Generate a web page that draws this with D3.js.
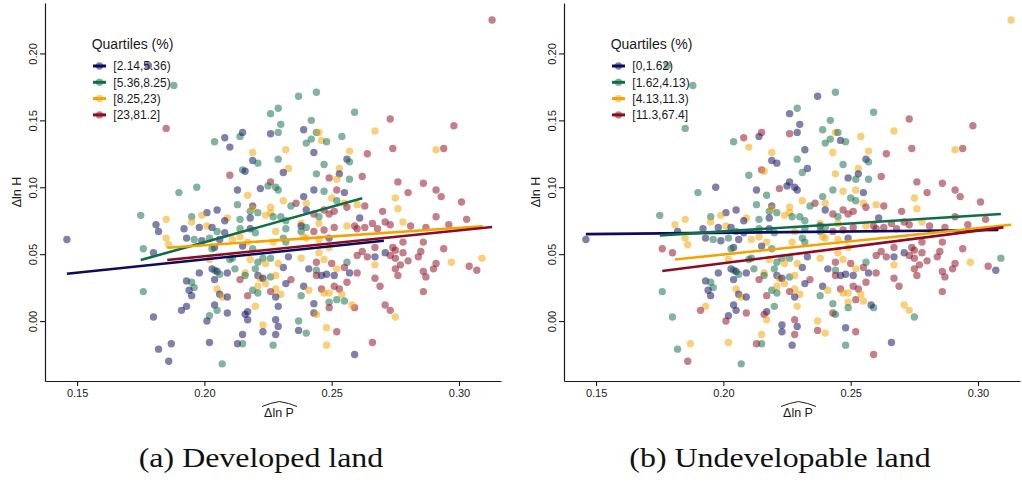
<!DOCTYPE html>
<html>
<head>
<meta charset="utf-8">
<script src="https://cdn.jsdelivr.net/npm/d3@7"></script>
<style>
  body { margin: 0; background: #fff; }
  svg { display: block; }
</style>
</head>
<body>
<svg id="chart" width="1022" height="482"></svg>
<script>
// Predicted price growth (x) and observed housing growth (y), one entry per city
const ptX = [
  .146,.178,.188,.185,.313,.190,.197,.204,.208,.210,
  .214,.215,.219,.219,.221,.215,.216,.210,.213,.222,
  .217,.213,.219,.218,.219,.221,.205,.201,.199,.209,
  .208,.214,.218,.195,.195,.185,.181,.175,.192,.198,
  .201,.203,.182,.185,.186,.193,.196,.199,.202,.205,
  .208,.206,.204,.203,.176,.180,.214,.218,.220,.211,
  .214,.217,.215,.219,.202,.210,.211,.218,.221,.220,
  .203,.204,.205,.206,.209,.198,.212,.216,.216,.214,
  .221,.222,.204,.193,.195,.196,.176,.194,.195,.205,
  .206,.207,.209,.217,.219,.221,.221,.204,.205,.209,
  .220,.193,.191,.202,.201,.180,.217,.216,.217,.223,
  .223,.215,.213,.215,.202,.187,.182,.186,.207,
  .237,.244,.229,.226,.259,.242,.230,.229,.226,.239,
  .244,.245,.267,.242,.240,.246,.248,.254,.232,.243,
  .257,.264,.229,.256,.257,.247,.233,.231,.244,.253,
  .253,.252,.249,.262,.257,.226,.225,.228,.229,.243,
  .247,.252,.255,.239,.250,.252,.231,.236,.240,.255,
  .260,.256,.263,.270,.226,.226,.234,.240,.247,.249,
  .251,.243,.245,.245,.238,.238,.261,.259,.256,.263,
  .266,.230,.227,.224,.232,.240,.251,
  .273,.298,.274,.291,.294,.276,.286,.280,.291,.293,
  .275,.301,.276,.291,.303,.278,.271,.273,.281,.296,.287,
  .278,.286,.294,.274,.275,.271,.273,.275,.278,.280,
  .285,.284,.277,.275,.276,.291,.290,.286,.287,.297,
  .304,.307,.309,.269,.286,.271,.273,.275,
  .267,.267,.264,.260,.267,.267,.266,.259,.258,.256,
  .256,.260,.252,.248,.248,.257,.262,
  .228,.232,.238,.243,.247,.260,.268,.231,.227,.232,
  .239,.240,.245,.249,.249,.245,.223,.226,.233,.238,
  .247,.250,.255,.252,.244,.241,.244,.246,.248,.251,
  .244,.231,.229,.224,.223,.226,.228,.234,.232,.224,
  .228,.230,.226,.228,.239,.241,.246,.247,.249,.251,
  .253,.254,.252,.255,.238,.229,.243,.249,.249,.228,
  .229,.228,.237,.237,.240,.243,.244,.227,.259
];
const ptY = [
  .061,.191,.176,.144,.225,.096,.100,.134,.137,.130,
  .138,.141,.126,.120,.118,.113,.112,.109,.098,.099,
  .094,.087,.086,.082,.084,.081,.083,.081,.079,.077,
  .075,.076,.077,.078,.074,.076,.072,.079,.069,.070,
  .071,.070,.067,.062,.057,.062,.061,.060,.062,.067,
  .066,.061,.055,.054,.054,.051,.069,.069,.066,.061,
  .063,.059,.056,.054,.046,.046,.047,.046,.044,.039,
  .039,.038,.037,.035,.036,.036,.039,.036,.034,.031,
  .034,.032,.031,.030,.029,.025,.022,.023,.019,.024,
  .020,.018,.018,.019,.023,.026,.021,.012,.008,.006,
  .011,.011,.008,.004,.000,.003,.007,.005,.001,-.003,
  -.008,-.010,-.017,-.017,-.016,-.017,-.021,-.030,-.032,
  .168,.171,.159,.155,.156,.150,.147,.141,.140,.143,
  .141,.141,.142,.136,.133,.135,.134,.138,.128,.126,
  .127,.125,.121,.121,.119,.117,.114,.111,.110,.114,
  .110,.106,.107,.108,.106,.104,.101,.100,.098,.098,
  .097,.098,.096,.093,.092,.090,.090,.088,.088,.088,
  .087,.085,.086,.082,.085,.081,.086,.083,.083,.080,
  .082,.080,.078,.073,.073,.071,.077,.071,.071,.070,
  .073,.078,.078,.079,.075,.070,.070,
  .151,.146,.129,.128,.129,.104,.103,.096,.098,.093,
  .092,.089,.084,.078,.076,.074,.074,.072,.071,.072,.070,
  .059,.059,.054,.055,.053,.051,.049,.047,.051,.045,
  .052,.048,.042,.039,.034,.043,.039,.037,.033,.044,
  .041,.038,.047,.026,.022,.012,.008,.003,
  .055,.048,.048,.049,.042,.032,-.016,.010,.012,.029,
  .044,.036,-.008,-.005,-.018,.036,.052,
  .067,.069,.067,.067,.068,.069,.069,.062,.059,.059,
  .063,.062,.061,.062,.055,.051,.047,.047,.048,.047,
  .046,.043,.040,.039,.044,.039,.038,.034,.035,.034,
  .034,.040,.043,.043,.032,.033,.034,.031,.028,.028,
  .024,.020,.022,.018,.026,.023,.024,.021,.021,.026,
  .024,.020,.016,.015,.019,.011,.013,.014,.010,.001,
  -.004,-.010,.000,-.007,-.009,.006,.005,-.018,-.025
];
// Quartile of each city by share of developed land (0..3)
const quartDeveloped = [
  0,0,1,3,3,1,1,1,0,0, 1,0,2,0,1,1,0,3,0,0, 2,1,0,1,2,1,0,0,2,2,
  0,1,0,1,2,2,0,1,0,0, 2,0,0,2,2,0,1,0,1,1, 0,0,0,1,1,0,1,0,1,2,
  2,2,0,1,2,1,1,2,1,1, 0,1,0,1,0,0,1,2,1,3, 0,2,0,0,1,1,1,0,0,2,
  0,2,0,3,1,2,1,0,1,0, 2,0,0,1,0,0,0,0,0,2, 0,0,0,1,0,0,0,0,1,
  1,1,1,1,1,1,1,1,0,0, 1,2,2,1,1,2,1,1,2,0, 2,3,1,0,1,1,2,0,1,2,
  0,2,3,3,1,3,1,1,1,0, 1,3,0,0,2,1,2,3,2,2, 2,3,3,3,2,2,1,0,3,3,
  3,3,1,2,2,0,0,3,2,3, 3,1,1,2,1,1,3,
  3,3,3,2,3,3,3,3,3,3, 2,3,2,3,3,2,3,3,3,3,3,
  3,3,3,3,3,0,3,3,3,3, 3,3,3,3,3,3,3,3,3,2, 3,3,2,3,3,3,3,2,
  3,0,3,3,2,3,3,3,2,3, 1,3,3,2,2,0,3,
  2,1,1,3,3,3,3,1,2,1, 2,2,2,0,2,2,1,1,0,2, 2,3,3,2,3,0,1,0,0,0,
  3,0,2,2,0,1,2,3,0,2, 2,2,3,0,0,2,3,2,2,3, 3,2,1,1,1,0,0,1,3,0,
  0,0,1,0,1,0,2,1,0
];
// Quartile of each city by share of undevelopable land (0..3)
const quartUndevelopable = [
  0,1,1,1,2,1,0,1,3,2, 0,3,2,0,0,3,2,1,0,3, 1,1,0,1,2,1,0,0,2,2,
  0,1,0,1,2,2,2,1,0,0, 2,0,0,2,2,0,1,0,1,1, 0,0,0,1,3,3,1,0,1,2,
  2,2,0,1,2,1,1,2,1,1, 0,1,0,1,0,0,1,2,1,3, 0,2,0,0,1,1,1,0,0,2,
  0,2,0,3,1,2,1,0,0,3, 1,2,3,0,3,1,0,3,2,0, 0,2,3,1,2,2,1,3,1,
  0,1,1,0,1,1,0,0,3,1, 2,1,2,1,1,0,1,2,0,2, 2,3,1,0,1,1,0,1,2,2,
  0,1,0,3,1,0,0,0,0,1, 2,2,0,1,1,1,2,3,2,2, 2,3,3,3,2,2,1,0,3,3,
  3,3,1,2,2,0,0,3,2,3, 3,1,1,2,1,1,3,
  3,3,3,2,3,3,3,3,3,3, 2,3,2,3,3,2,3,3,3,3,3,
  3,3,3,3,3,0,3,3,3,3, 3,3,3,3,3,3,3,3,3,2, 3,0,1,3,3,2,2,1,
  3,0,3,3,2,3,0,1,0,3, 1,3,3,0,1,0,3,
  2,1,1,3,3,3,3,1,2,1, 2,2,2,0,2,2,1,1,0,2, 2,3,3,2,3,0,1,0,0,0,
  3,0,2,2,0,1,2,3,0,2, 2,2,3,0,0,2,3,2,2,3, 3,2,3,2,1,2,1,2,1,3,
  0,3,2,3,2,3,1,0,3
];

const labelsDeveloped = ["[2.14,5.36)", "[5.36,8.25)", "[8.25,23)", "[23,81.2]"];
const labelsUndevelopable = ["[0,1.62)", "[1.62,4.13)", "[4.13,11.3)", "[11.3,67.4]"];

// Within-quartile linear fits: [x start, y start, x end, y end]
const fitDeveloped = [
  [0.146, 0.0354, 0.2705, 0.0600],
  [0.175, 0.0456, 0.2620, 0.0917],
  [0.1854, 0.0548, 0.3093, 0.0708],
  [0.1854, 0.0456, 0.3130, 0.0703]
];
const fitUndevelopable = [
  [0.146, 0.0650, 0.3080, 0.0680],
  [0.175, 0.0640, 0.3090, 0.0800],
  [0.181, 0.0460, 0.3130, 0.0720],
  [0.176, 0.0374, 0.3100, 0.0700]
];

const xTicks = [0.15, 0.20, 0.25, 0.30];
const yTicks = [0.00, 0.05, 0.10, 0.15, 0.20];

// ---- drawing ----
const palette = ["#0c0b5e", "#0f6e48", "#f4a300", "#8c0b20"];
const sans = "'Liberation Sans', Arial, Helvetica, sans-serif";
const serif = "'Liberation Serif', 'Times New Roman', serif";
const ink = "#1a1a1a";

const svg = d3.select("#chart");
const x = d3.scaleLinear().domain([0.1374, 0.3165]).range([45, 501]);
const y = d3.scaleLinear().domain([-0.0448, 0.2377]).range([381, 3]);

function drawPanel(offsetX, quart, fits, labels, caption) {
  const g = svg.append("g").attr("transform", `translate(${offsetX},0)`);
  const pts = ptX.map((v, i) => ({ x: v, y: ptY[i], q: quart[i] }));

  g.append("g").selectAll("circle").data(pts).join("circle")
    .attr("cx", d => x(d.x)).attr("cy", d => y(d.y)).attr("r", 3.7)
    .attr("fill", d => palette[d.q]).attr("fill-opacity", 0.52);

  g.append("g").selectAll("line").data(fits).join("line")
    .attr("x1", d => x(d[0])).attr("y1", d => y(d[1]))
    .attr("x2", d => x(d[2])).attr("y2", d => y(d[3]))
    .attr("stroke", (d, i) => palette[i]).attr("stroke-width", 2.6);

  // bottom axis
  const gx = g.append("g").attr("transform", "translate(0,381)")
    .call(d3.axisBottom(x).tickValues(xTicks).tickFormat(d3.format(".2f"))
      .tickSize(5).tickSizeOuter(0).tickPadding(3));
  // left axis
  const gy = g.append("g").attr("transform", "translate(45,0)")
    .call(d3.axisLeft(y).tickValues(yTicks).tickFormat(d3.format(".2f"))
      .tickSize(5).tickSizeOuter(0));
  gy.selectAll(".tick text")
    .attr("x", 0).attr("y", -8).attr("dy", null)
    .attr("text-anchor", "middle").attr("transform", "rotate(-90)");
  [gx, gy].forEach(a => {
    a.select(".domain").attr("stroke", ink).attr("stroke-width", 1.2);
    a.selectAll(".tick line").attr("stroke", ink).attr("stroke-width", 1.1);
    a.selectAll(".tick text").attr("fill", ink)
      .style("font-family", sans).style("font-size", "11px");
  });

  // axis titles
  g.append("text").attr("transform", "translate(20.5,192) rotate(-90)")
    .attr("text-anchor", "middle").attr("fill", ink)
    .style("font-family", sans).style("font-size", "12.5px").text("\u0394ln H");
  g.append("text").attr("x", 279).attr("y", 417)
    .attr("text-anchor", "middle").attr("fill", ink)
    .style("font-family", sans).style("font-size", "12.5px").text("\u0394ln P");
  g.append("path")
    .attr("d", "M262,406.5 Q270,403 279.5,401.5 Q289,403 297,406.5")
    .attr("fill", "none").attr("stroke", ink).attr("stroke-width", 1);

  // legend
  const lg = g.append("g");
  lg.append("text").attr("x", 91.7).attr("y", 49.3).attr("fill", ink)
    .style("font-family", sans).style("font-size", "14px").text("Quartiles (%)");
  const item = lg.selectAll("g.item").data(labels).join("g").attr("class", "item")
    .attr("transform", (d, i) => `translate(0,${66 + i * 16.3})`);
  item.append("line").attr("x1", 93).attr("x2", 106).attr("y1", 0).attr("y2", 0)
    .attr("stroke", (d, i) => palette[i]).attr("stroke-width", 3);
  item.append("circle").attr("cx", 99.5).attr("cy", 0).attr("r", 3.7)
    .attr("fill", (d, i) => palette[i]).attr("fill-opacity", 0.52);
  item.append("text").attr("x", 113.3).attr("y", 4.3).attr("fill", ink)
    .style("font-family", sans).style("font-size", "12px").text(d => d);

  // caption
  g.append("text").attr("transform", "translate(261,467) scale(1.14,1)")
    .attr("text-anchor", "middle").attr("fill", "#111")
    .style("font-family", serif).style("font-size", "28px").text(caption);
}

drawPanel(0, quartDeveloped, fitDeveloped, labelsDeveloped, "(a) Developed land");
drawPanel(519, quartUndevelopable, fitUndevelopable, labelsUndevelopable, "(b) Undevelopable land");
</script>
</body>
</html>
